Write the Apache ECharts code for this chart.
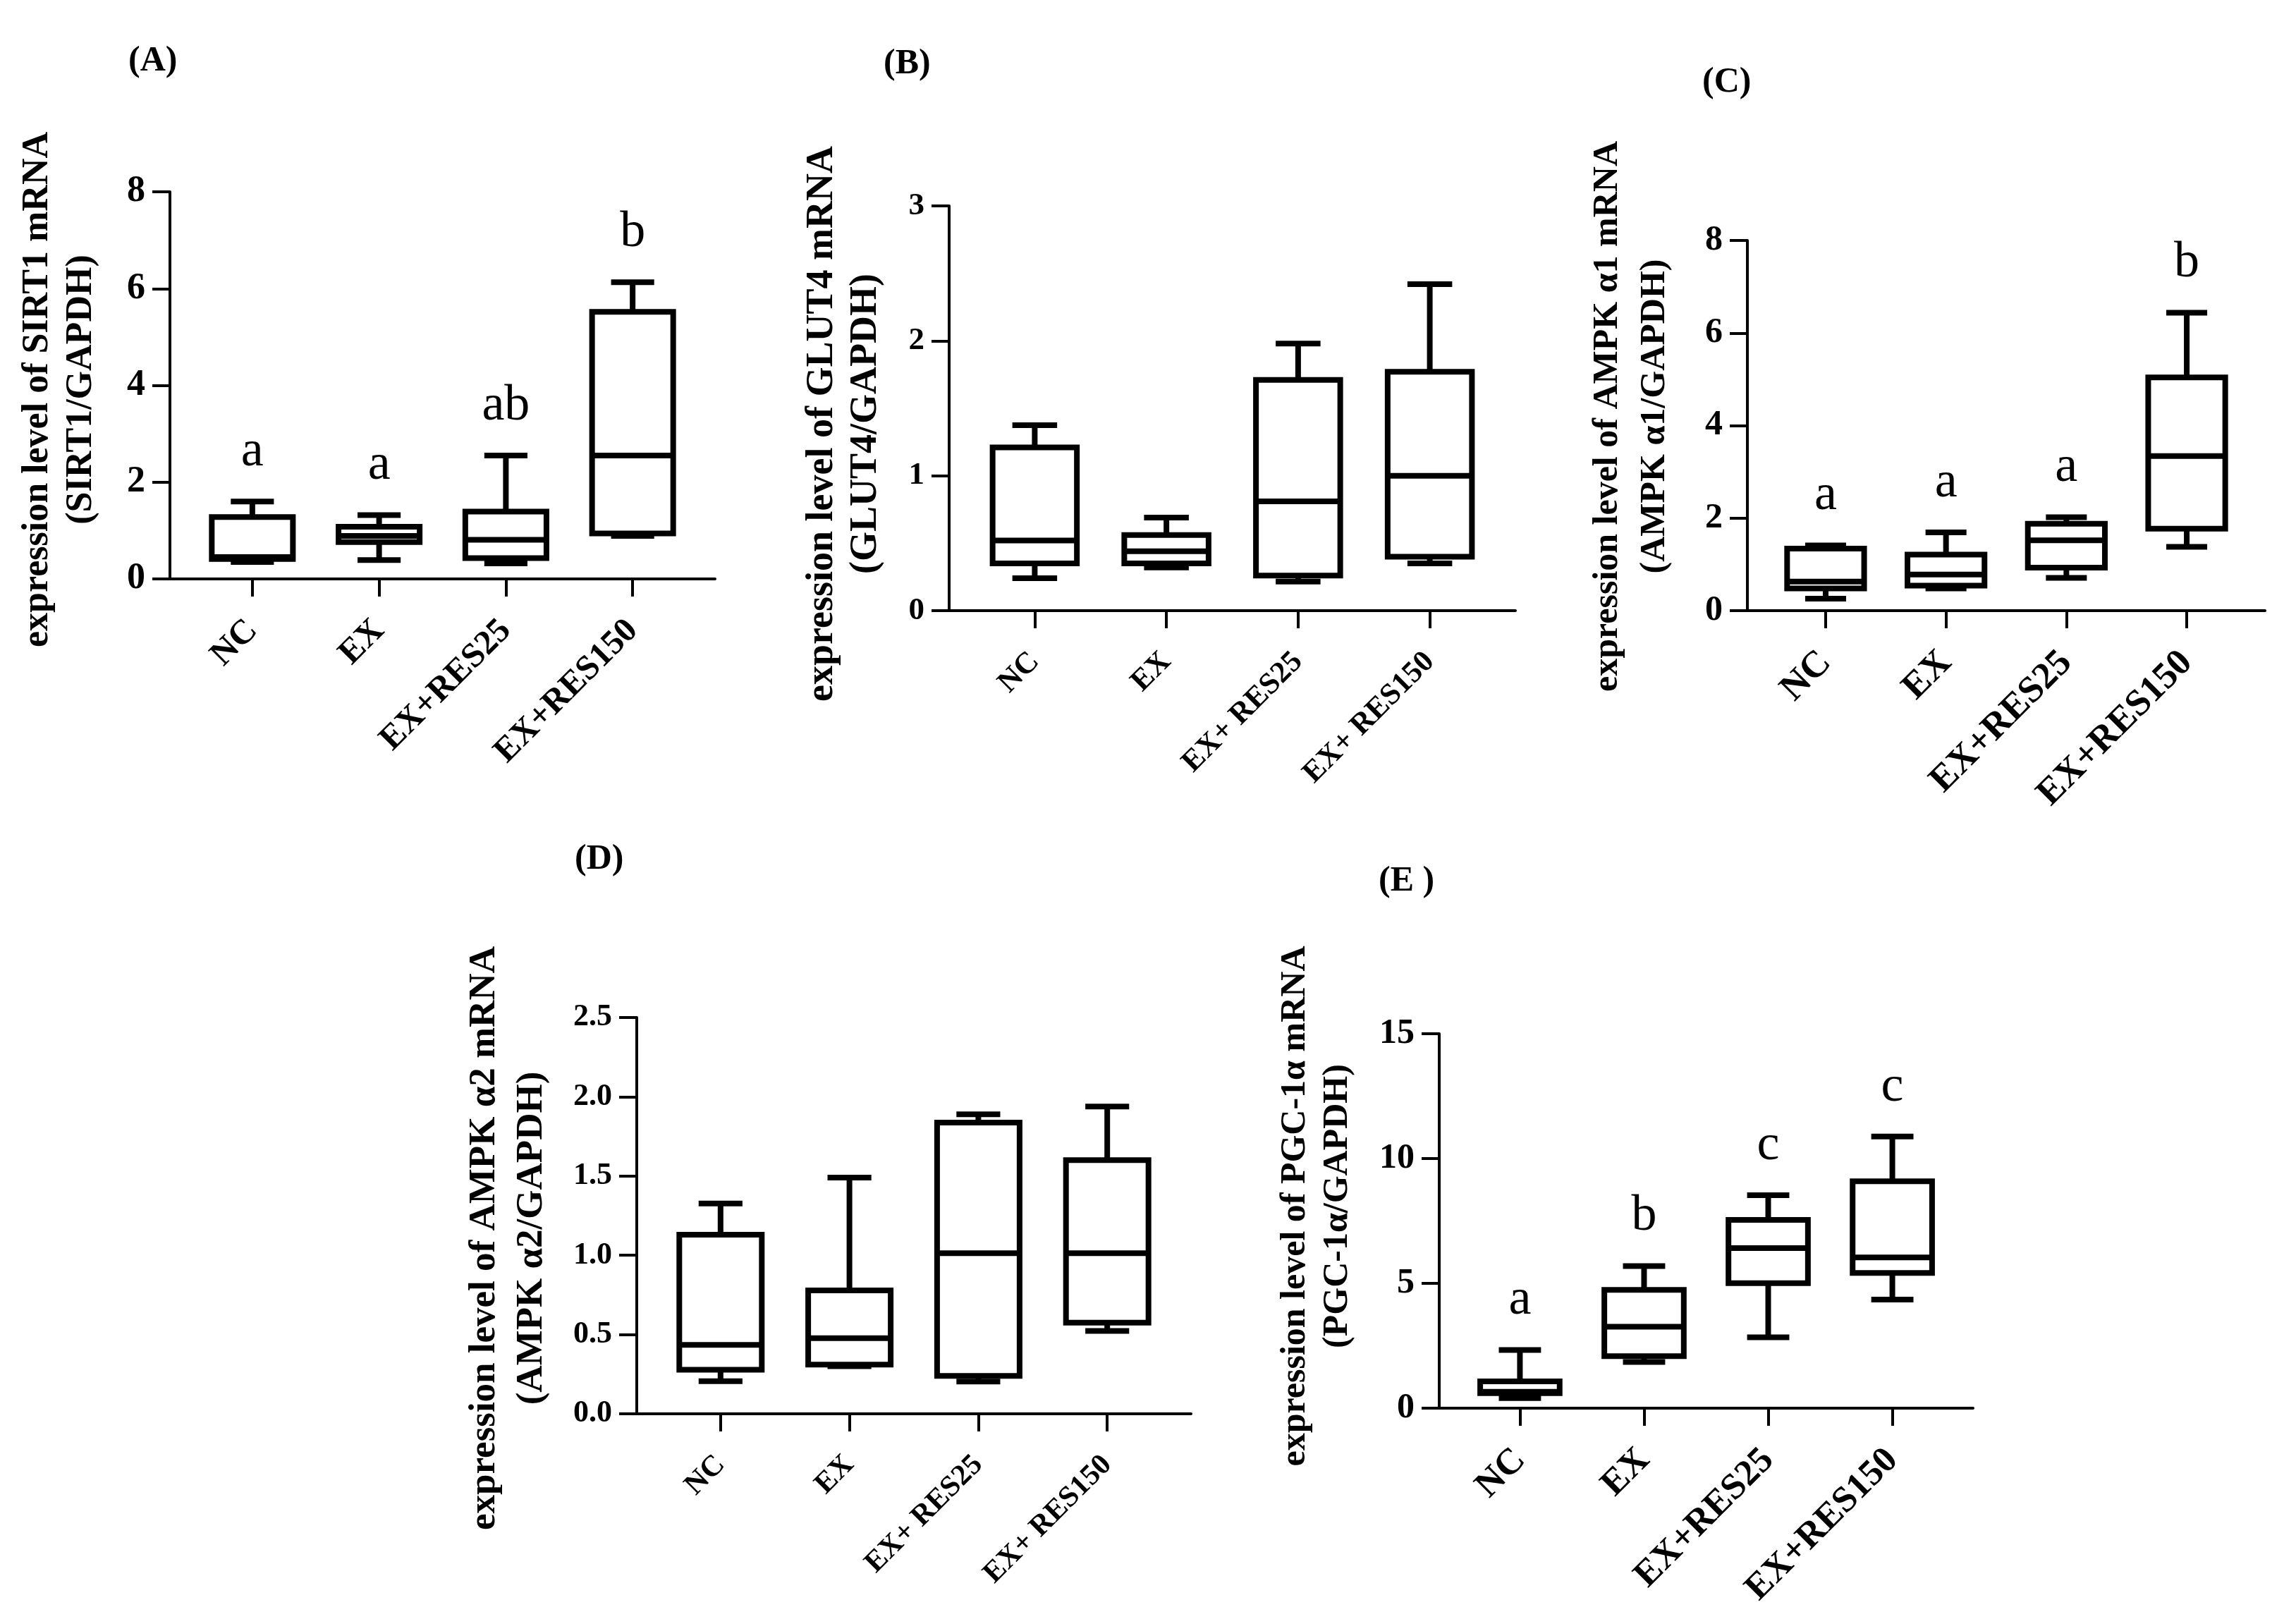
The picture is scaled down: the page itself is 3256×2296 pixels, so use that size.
<!DOCTYPE html>
<html>
<head>
<meta charset="utf-8">
<script src="https://cdn.jsdelivr.net/npm/echarts@6/dist/echarts.min.js"></script>
<style>
html,body{margin:0;padding:0;background:#fff;}
#chart{width:3256px;height:2296px;}
</style>
</head>
<body>
<div id="chart"></div>
<script>
// ========== data ==========
const groups = ['NC', 'EX', 'EX+RES25', 'EX+RES150'];
const groupsSpaced = ['NC', 'EX', 'EX+ RES25', 'EX+ RES150'];

// each row: [min, Q1, median, Q3, max]
const sirt1 = [[0.35, 0.41, 0.45, 1.28, 1.60], [0.39, 0.76, 0.89, 1.08, 1.32], [0.32, 0.43, 0.81, 1.39, 2.55], [0.89, 0.94, 2.55, 5.52, 6.13]];
const sirt1Letters = ['a', 'a', 'ab', 'b'];

const glut4 = [[0.24, 0.35, 0.52, 1.21, 1.375], [0.32, 0.35, 0.44, 0.56, 0.69], [0.215, 0.26, 0.81, 1.71, 1.98], [0.35, 0.40, 1.00, 1.77, 2.42]];

const ampkA1 = [[0.26, 0.48, 0.63, 1.34, 1.41], [0.48, 0.54, 0.78, 1.21, 1.69], [0.71, 0.93, 1.52, 1.88, 2.02], [1.38, 1.77, 3.34, 5.04, 6.44]];
const ampkA1Letters = ['a', 'a', 'a', 'b'];

const ampkA2 = [[0.206, 0.278, 0.435, 1.13, 1.327], [0.30, 0.31, 0.477, 0.778, 1.49], [0.203, 0.239, 1.013, 1.837, 1.89], [0.523, 0.575, 1.013, 1.60, 1.938]];

const pgc1a = [[0.40, 0.60, 0.66, 1.07, 2.33], [1.85, 2.08, 3.26, 4.74, 5.69], [2.84, 5.01, 6.41, 7.54, 8.53], [4.35, 5.42, 6.04, 9.09, 10.88]];
const pgc1aLetters = ['a', 'b', 'c', 'c'];

const FONT = '"Liberation Serif", "Times New Roman", serif';

// ========== panel layout ==========
// shift: moves the two-line axis name along the axis (+ = down)
const panels = [
    { tag: '(A)', tl: [182, 62], grid: [241, 272, 773, 549], data: sirt1, letters: sirt1Letters, labels: groups,
      yMax: 8, yStep: 2, dec: 0, tickFont: 52, catFont: 49, nameFont: 52, nameLH: 62, nameGap: 94, shift: 6,
      name: 'expression level of SIRT1 mRNA\n(SIRT1/GAPDH)' },
    { tag: '(B)', tl: [1253, 66], grid: [1346, 292, 803, 574], data: glut4, letters: null, labels: groupsSpaced,
      yMax: 3, yStep: 1, dec: 0, tickFont: 45, catFont: 43, nameFont: 54, nameLH: 62, nameGap: 87, shift: 22,
      name: 'expression level of GLUT4 mRNA\n(GLUT4/GAPDH)' },
    { tag: '(C)', tl: [2414, 92], grid: [2478, 341, 734, 525], data: ampkA1, letters: ampkA1Letters, labels: groups,
      yMax: 8, yStep: 2, dec: 0, tickFont: 50, catFont: 53, nameFont: 50, nameLH: 67, nameGap: 97, shift: -13,
      name: 'expression level of AMPK α1 mRNA\n(AMPK α1/GAPDH)' },
    { tag: '(D)', tl: [815, 1194], grid: [903, 1443, 786, 562], data: ampkA2, letters: null, labels: groupsSpaced,
      yMax: 2.5, yStep: 0.5, dec: 1, tickFont: 44, catFont: 42, nameFont: 53, nameLH: 67, nameGap: 115, shift: 32,
      name: 'expression level of AMPK α2 mRNA\n(AMPK α2/GAPDH)' },
    { tag: '(E )', tl: [1955, 1225], grid: [2041, 1466, 757, 531], data: pgc1a, letters: pgc1aLetters, labels: groups,
      yMax: 15, yStep: 5, dec: 0, tickFont: 50, catFont: 52, nameFont: 50, nameLH: 60, nameGap: 114, shift: -21,
      name: 'expression level of PGC-1α mRNA\n(PGC-1α/GAPDH)' }
];

const chart = echarts.init(document.getElementById('chart'));

// box + whiskers + group letter drawn through the axes' scales
function makeRender(letters) {
    return function (params, api) {
        const x = api.value(0);
        const lo = api.coord([x, api.value(1)]);
        const q1 = api.coord([x, api.value(2)]);
        const med = api.coord([x, api.value(3)]);
        const q3 = api.coord([x, api.value(4)]);
        const hi = api.coord([x, api.value(5)]);
        const half = api.size([0.64, 0])[0] / 2;
        const cap = api.size([0.34, 0])[0] / 2;
        const cx = lo[0];
        const ls = { stroke: '#000', lineWidth: 8, lineCap: 'butt' };
        const kids = [
            { type: 'line', shape: { x1: cx, y1: hi[1], x2: cx, y2: q3[1] }, style: ls },
            { type: 'line', shape: { x1: cx, y1: q1[1], x2: cx, y2: lo[1] }, style: ls },
            { type: 'line', shape: { x1: cx - cap, y1: hi[1], x2: cx + cap, y2: hi[1] }, style: ls },
            { type: 'line', shape: { x1: cx - cap, y1: lo[1], x2: cx + cap, y2: lo[1] }, style: ls },
            { type: 'rect', shape: { x: cx - half, y: q3[1], width: half * 2, height: q1[1] - q3[1] },
              style: { stroke: '#000', lineWidth: 8, fill: '#fff' } },
            { type: 'line', shape: { x1: cx - half, y1: med[1], x2: cx + half, y2: med[1] }, style: ls }
        ];
        if (letters) {
            kids.push({ type: 'text', style: { text: letters[params.dataIndex], x: cx, y: hi[1] - 34,
                align: 'center', verticalAlign: 'bottom', fontSize: 72, fontFamily: FONT, fill: '#000' } });
        }
        return { type: 'group', children: kids };
    };
}

const axisLineStyle = { color: '#000', width: 4 };
const option = {
    backgroundColor: '#fff',
    animation: false,
    title: panels.map(p => ({
        text: p.tag, left: p.tl[0], top: p.tl[1], padding: 0,
        textStyle: { fontFamily: FONT, fontWeight: 'bold', fontSize: 50, color: '#000' }
    })),
    grid: panels.map(p => ({ left: p.grid[0], top: p.grid[1], width: p.grid[2], height: p.grid[3], containLabel: false, outerBoundsMode: 'none' })),
    xAxis: panels.map((p, i) => ({
        gridIndex: i, type: 'value', min: -0.65, max: 3.65,
        splitLine: { show: false },
        axisLine: { show: true, onZero: false, lineStyle: axisLineStyle },
        axisTick: { show: true, customValues: [0, 1, 2, 3], length: 25, lineStyle: axisLineStyle },
        axisLabel: { customValues: [0, 1, 2, 3], rotate: 45, margin: 66,
            formatter: v => p.labels[Math.round(v)],
            fontFamily: FONT, fontWeight: 'bold', fontSize: p.catFont, color: '#000' }
    })),
    yAxis: panels.map((p, i) => ({
        gridIndex: i, type: 'value', min: 0, max: p.yMax, interval: p.yStep,
        name: p.name, nameLocation: 'middle', nameRotate: 90, nameGap: p.nameGap,
        nameTextStyle: { fontFamily: FONT, fontWeight: 'bold', fontSize: p.nameFont, lineHeight: p.nameLH, color: '#000', align: 'center',
            padding: p.shift > 0 ? [0, 2 * p.shift, 0, 0] : [0, 0, 0, -2 * p.shift] },
        splitLine: { show: false },
        axisLine: { show: true, onZero: false, lineStyle: axisLineStyle },
        axisTick: { show: true, length: 25, lineStyle: axisLineStyle },
        axisLabel: { margin: 35, formatter: v => v.toFixed(p.dec),
            fontFamily: FONT, fontWeight: 'bold', fontSize: p.tickFont, color: '#000' }
    })),
    series: panels.map((p, i) => ({
        type: 'custom', xAxisIndex: i, yAxisIndex: i, clip: false,
        renderItem: makeRender(p.letters),
        encode: { x: 0, y: [1, 2, 3, 4, 5] },
        data: p.data.map((row, k) => [k].concat(row))
    }))
};
chart.setOption(option);
</script>
</body>
</html>
